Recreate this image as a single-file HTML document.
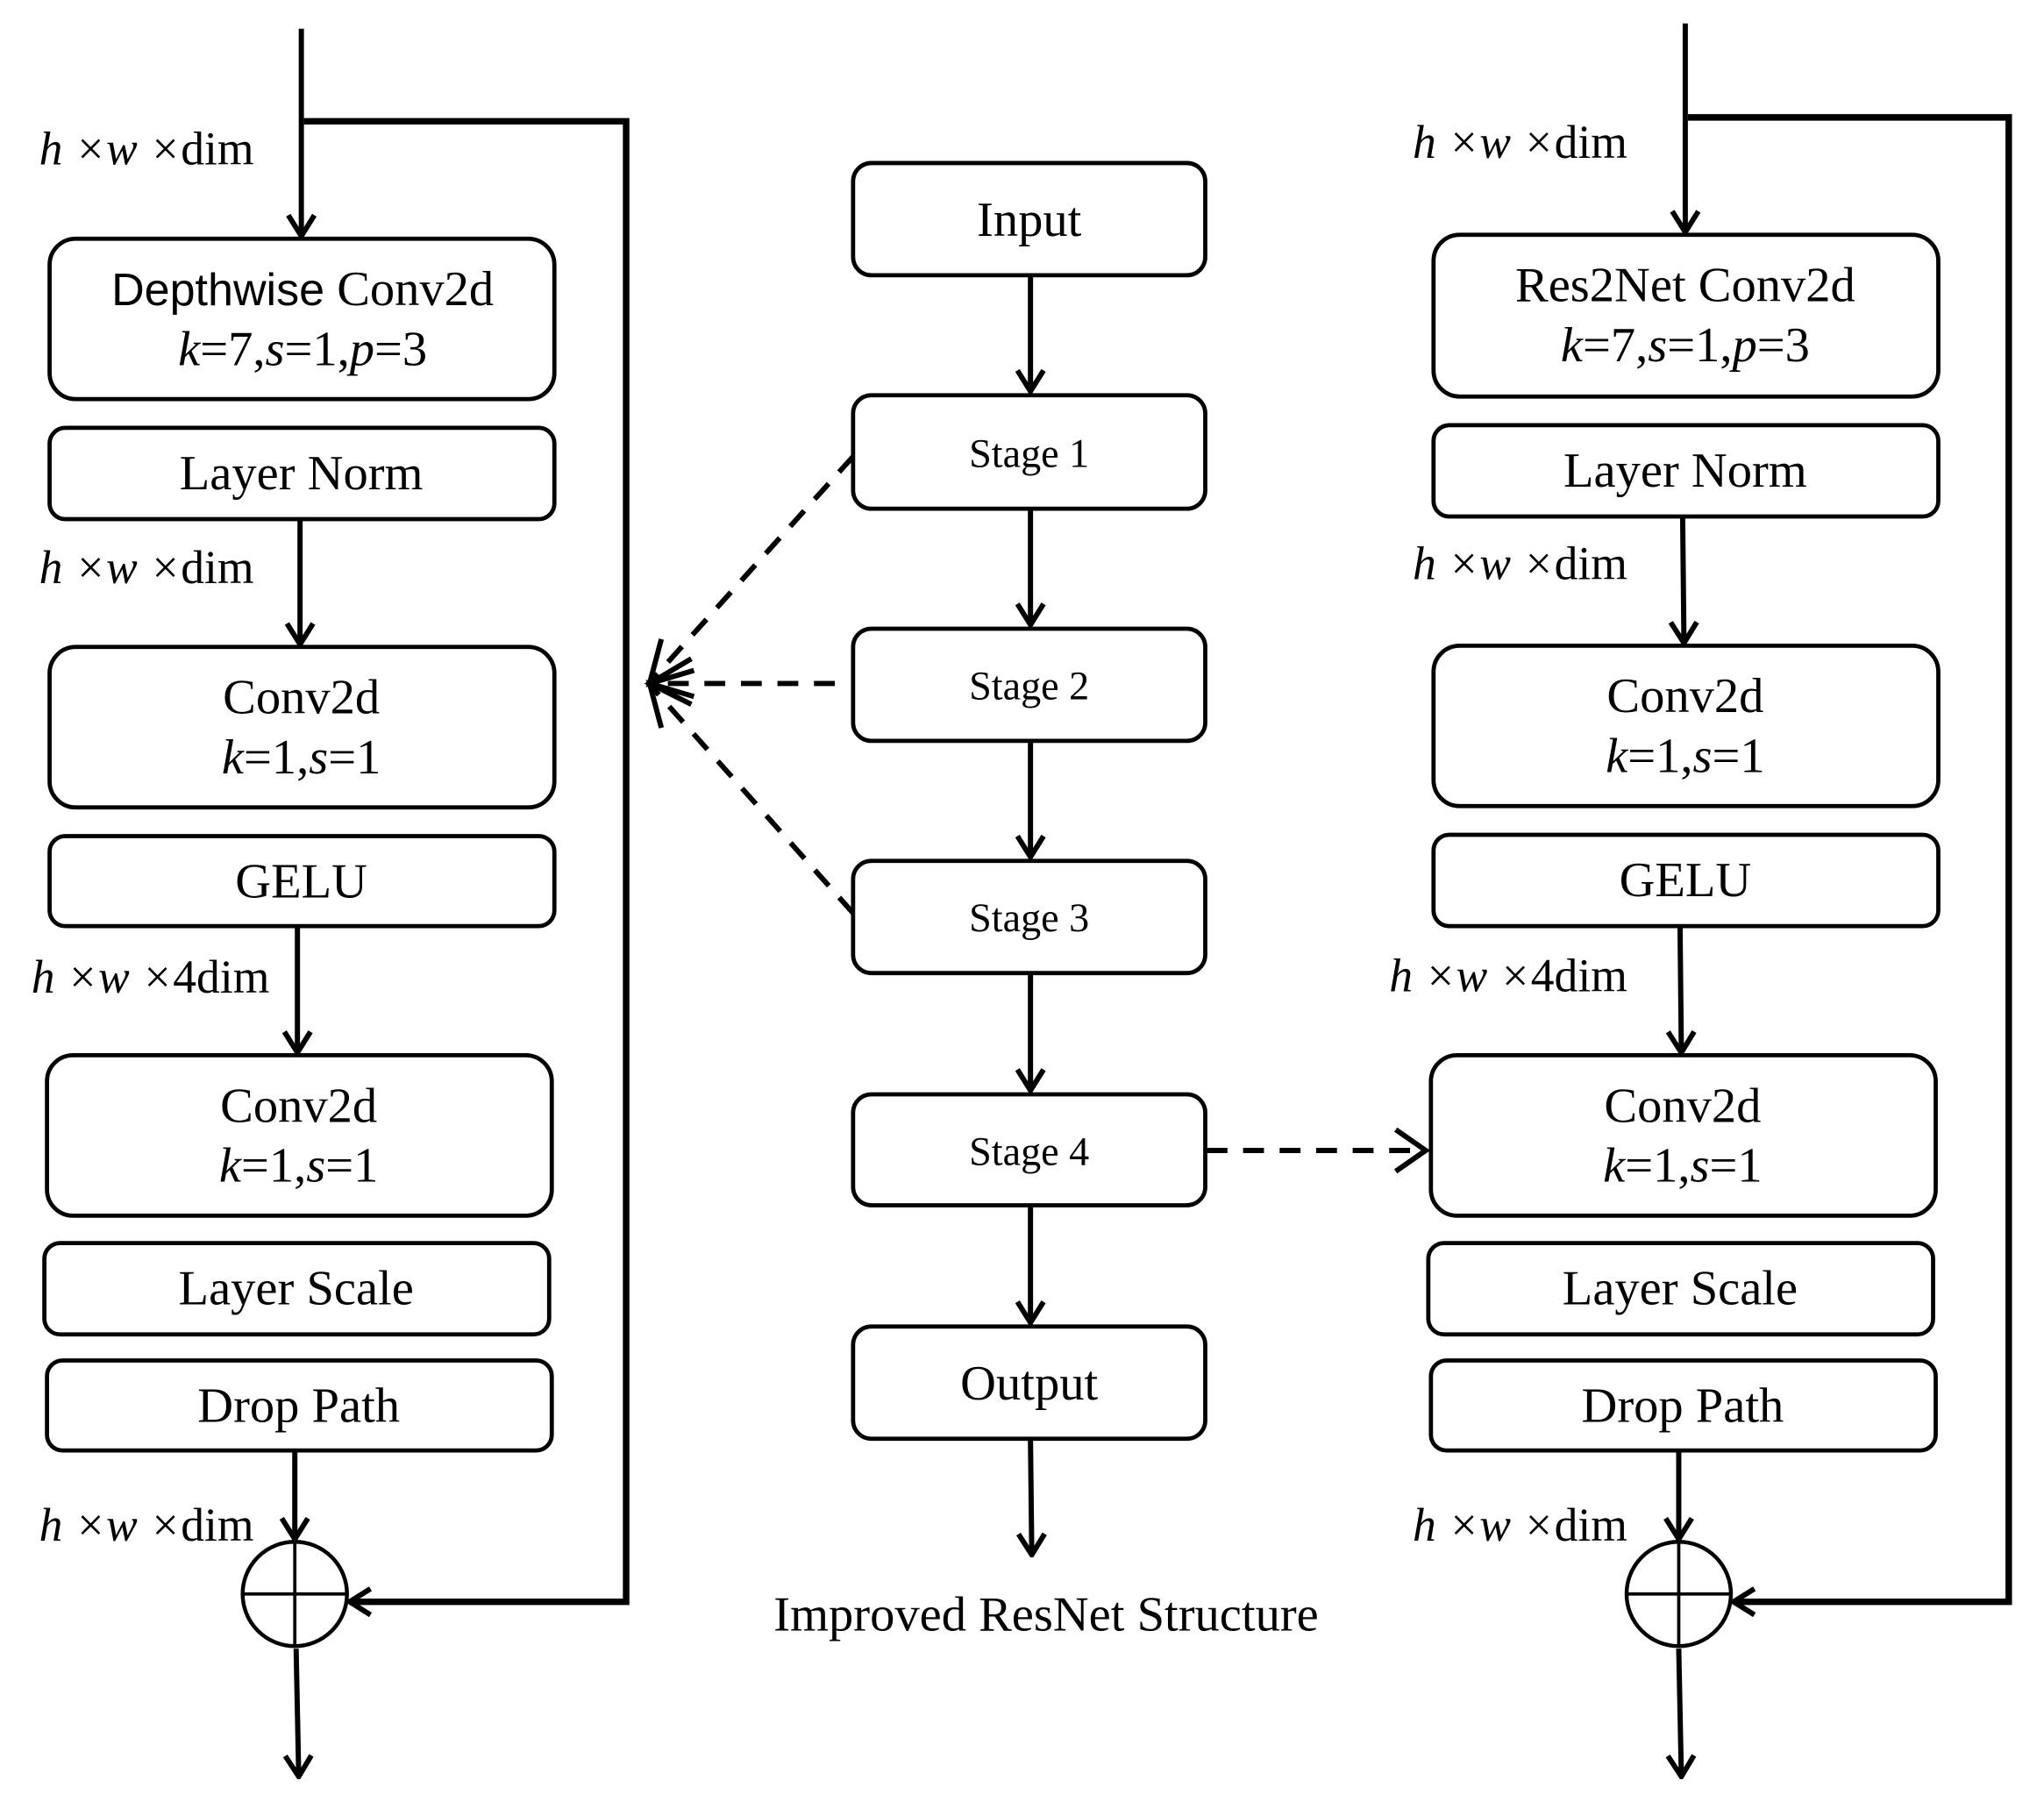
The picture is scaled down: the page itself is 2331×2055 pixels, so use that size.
<!DOCTYPE html>
<html><head><meta charset="utf-8"><style>
html,body{margin:0;padding:0;background:#fff;}
svg{display:block;}
text{font-family:"Liberation Serif",serif;fill:#000;}
.s{font-family:"Liberation Sans",sans-serif;}
</style></head><body>
<svg width="2331" height="2055" viewBox="0 0 1567 1381.5" xmlns="http://www.w3.org/2000/svg">
<defs>
<marker id="a" viewBox="0 0 20 24" refX="18" refY="12" markerWidth="20" markerHeight="26" markerUnits="userSpaceOnUse" orient="auto">
<path d="M2,2 L18,12 L2,22" fill="none" stroke="#000" stroke-width="4"/>
</marker>
</defs>
<g fill="none" stroke="#000" stroke-width="3.2">
<rect x="38" y="183" width="387" height="123" rx="20"/>
<rect x="38" y="328" width="387" height="70" rx="12"/>
<rect x="38" y="496" width="387" height="123" rx="20"/>
<rect x="38" y="641" width="387" height="69" rx="12"/>
<rect x="36" y="809" width="387" height="123" rx="20"/>
<rect x="34" y="953" width="387" height="70" rx="12"/>
<rect x="36" y="1043" width="387" height="69" rx="12"/>
<rect x="654" y="125" width="270" height="86" rx="14"/>
<rect x="654" y="303" width="270" height="87" rx="14"/>
<rect x="654" y="482" width="270" height="86" rx="14"/>
<rect x="654" y="660" width="270" height="86" rx="14"/>
<rect x="654" y="839" width="270" height="85" rx="14"/>
<rect x="654" y="1017" width="270" height="86" rx="14"/>
<rect x="1099" y="180" width="387" height="124" rx="20"/>
<rect x="1099" y="326" width="387" height="70" rx="12"/>
<rect x="1099" y="495" width="387" height="123" rx="20"/>
<rect x="1099" y="640" width="387" height="70" rx="12"/>
<rect x="1097" y="809" width="387" height="123" rx="20"/>
<rect x="1095" y="953" width="387" height="70" rx="12"/>
<rect x="1097" y="1043" width="387" height="69" rx="12"/>
<circle cx="226" cy="1222" r="40" stroke-width="3"/>
<line x1="226" y1="1182" x2="226" y2="1262" stroke-width="2.5"/>
<line x1="186" y1="1222" x2="266" y2="1222" stroke-width="2.5"/>
<circle cx="1287" cy="1222" r="40" stroke-width="3"/>
<line x1="1287" y1="1182" x2="1287" y2="1262" stroke-width="2.5"/>
<line x1="1247" y1="1222" x2="1327" y2="1222" stroke-width="2.5"/>
</g>
<g fill="none" stroke="#000" stroke-width="4" marker-end="url(#a)">
<line x1="231" y1="22" x2="231" y2="181"/>
<polyline points="233,93 480,93 480,1228 268,1228" stroke-width="5"/>
<line x1="230" y1="399" x2="230" y2="494"/>
<line x1="228" y1="711" x2="228" y2="807"/>
<line x1="226" y1="1113" x2="226" y2="1180"/>
<line x1="227" y1="1264" x2="229" y2="1362"/>
<line x1="790" y1="212" x2="790" y2="300"/>
<line x1="790" y1="391" x2="790" y2="479"/>
<line x1="790" y1="569" x2="790" y2="657"/>
<line x1="790" y1="747" x2="790" y2="836"/>
<line x1="790" y1="925" x2="790" y2="1014"/>
<line x1="790" y1="1104" x2="791" y2="1192"/>
<line x1="1292" y1="18" x2="1292" y2="178"/>
<polyline points="1294,90 1540,90 1540,1228 1329,1228" stroke-width="5"/>
<line x1="1290" y1="397" x2="1291" y2="493"/>
<line x1="1288" y1="711" x2="1289" y2="807"/>
<line x1="1287" y1="1113" x2="1287" y2="1180"/>
<line x1="1287" y1="1264" x2="1289" y2="1362"/>
</g>
<g fill="none" stroke="#000" stroke-width="4" stroke-dasharray="16,12">
<line x1="654" y1="350" x2="500" y2="521"/>
<line x1="640" y1="524" x2="500" y2="524"/>
<line x1="654" y1="700" x2="500" y2="527"/>
<line x1="925" y1="882" x2="1090" y2="882"/>
</g>
<g fill="none" stroke="#000" stroke-width="4">
<path d="M530,505 L498,524 L530,540"/>
<path d="M507,490 L498,524 L532,514"/>
<path d="M507,558 L498,524 L532,534"/>
<path d="M1070,866 L1093,882 L1070,898"/>
</g>
<g font-size="38" text-anchor="middle">
<text x="232" y="234"><tspan class="s" font-size="35">Depthwise</tspan> Conv2d</text>
<text x="232" y="280"><tspan font-style="italic">k</tspan>=7,<tspan font-style="italic">s</tspan>=1,<tspan font-style="italic">p</tspan>=3</text>
<text x="231" y="375">Layer Norm</text>
<text x="231" y="547">Conv2d</text>
<text x="231" y="593"><tspan font-style="italic">k</tspan>=1,<tspan font-style="italic">s</tspan>=1</text>
<text x="231" y="688">GELU</text>
<text x="229" y="860">Conv2d</text>
<text x="229" y="906"><tspan font-style="italic">k</tspan>=1,<tspan font-style="italic">s</tspan>=1</text>
<text x="227" y="1000">Layer Scale</text>
<text x="229" y="1090">Drop Path</text>
<text x="789" y="181">Input</text>
<text x="789" y="358" font-size="31">Stage 1</text>
<text x="789" y="536" font-size="31">Stage 2</text>
<text x="789" y="714" font-size="31">Stage 3</text>
<text x="789" y="893" font-size="31">Stage 4</text>
<text x="789" y="1073">Output</text>
<text x="802" y="1250">Improved ResNet Structure</text>
<text x="1292" y="231">Res2Net Conv2d</text>
<text x="1292" y="277"><tspan font-style="italic">k</tspan>=7,<tspan font-style="italic">s</tspan>=1,<tspan font-style="italic">p</tspan>=3</text>
<text x="1292" y="373">Layer Norm</text>
<text x="1292" y="546">Conv2d</text>
<text x="1292" y="592"><tspan font-style="italic">k</tspan>=1,<tspan font-style="italic">s</tspan>=1</text>
<text x="1292" y="687">GELU</text>
<text x="1290" y="860">Conv2d</text>
<text x="1290" y="906"><tspan font-style="italic">k</tspan>=1,<tspan font-style="italic">s</tspan>=1</text>
<text x="1288" y="1000">Layer Scale</text>
<text x="1290" y="1090">Drop Path</text>
</g>
<g font-size="36">
<text x="30" y="126"><tspan font-style="italic">h</tspan> <tspan font-style="italic">×w</tspan> <tspan font-style="italic">×</tspan>dim</text>
<text x="30" y="447"><tspan font-style="italic">h</tspan> <tspan font-style="italic">×w</tspan> <tspan font-style="italic">×</tspan>dim</text>
<text x="24" y="761"><tspan font-style="italic">h</tspan> <tspan font-style="italic">×w</tspan> <tspan font-style="italic">×</tspan>4dim</text>
<text x="30" y="1181"><tspan font-style="italic">h</tspan> <tspan font-style="italic">×w</tspan> <tspan font-style="italic">×</tspan>dim</text>
<text x="1083" y="121"><tspan font-style="italic">h</tspan> <tspan font-style="italic">×w</tspan> <tspan font-style="italic">×</tspan>dim</text>
<text x="1083" y="444"><tspan font-style="italic">h</tspan> <tspan font-style="italic">×w</tspan> <tspan font-style="italic">×</tspan>dim</text>
<text x="1065" y="760"><tspan font-style="italic">h</tspan> <tspan font-style="italic">×w</tspan> <tspan font-style="italic">×</tspan>4dim</text>
<text x="1083" y="1181"><tspan font-style="italic">h</tspan> <tspan font-style="italic">×w</tspan> <tspan font-style="italic">×</tspan>dim</text>
</g>
</svg>
</body></html>
